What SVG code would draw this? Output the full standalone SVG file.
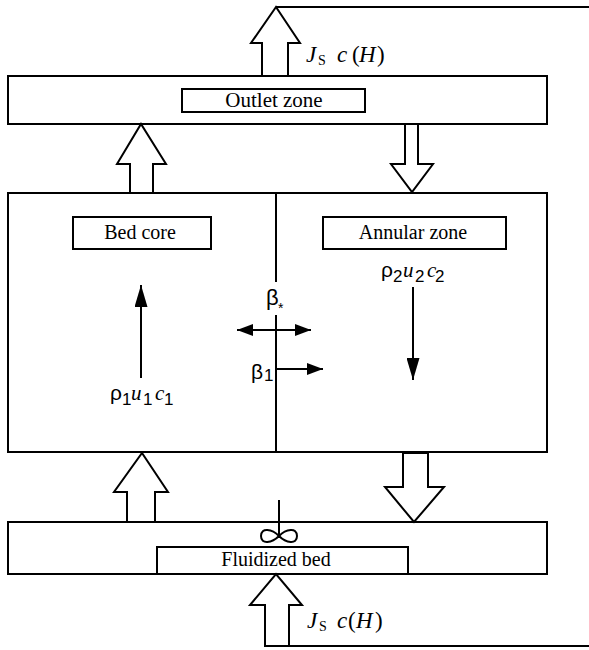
<svg xmlns="http://www.w3.org/2000/svg" width="589" height="650" viewBox="0 0 589 650">
<defs>
<style>
.box{fill:none;stroke:#000;stroke-width:2}
.lbl{fill:#fff;stroke:#000;stroke-width:2}
.blk{fill:#fff;stroke:#000;stroke-width:2;stroke-linejoin:miter}
.ln{fill:none;stroke:#000;stroke-width:2}
</style>
<marker id="ah" markerWidth="16" markerHeight="12" refX="16" refY="6" orient="auto" markerUnits="userSpaceOnUse">
<path d="M0,0 L16,6 L0,12 Z" fill="#000"/>
</marker>
<marker id="ahs" markerWidth="16" markerHeight="12" refX="0" refY="6" orient="auto" markerUnits="userSpaceOnUse">
<path d="M16,0 L0,6 L16,12 Z" fill="#000"/>
</marker>
<marker id="ahl" markerWidth="22" markerHeight="13" refX="22" refY="6.5" orient="auto" markerUnits="userSpaceOnUse">
<path d="M0,0 L22,6.5 L0,13 Z" fill="#000"/>
</marker>
</defs>
<rect width="589" height="650" fill="#fff"/>

<g id="outlet">
<rect class="box" x="8" y="76" width="539" height="48"/>
<rect class="lbl" x="182" y="89" width="183" height="23"/>
<text font-family="'Liberation Serif', 'Times New Roman', serif" font-size="21" x="274" y="107" text-anchor="middle">Outlet zone</text>
</g>

<g id="middle">
<rect class="box" x="8" y="193" width="539" height="259"/>
<line class="ln" x1="276" y1="193" x2="276" y2="282"/>
<line class="ln" x1="276" y1="315" x2="276" y2="452"/>
</g>

<g id="bed-core">
<rect class="lbl" x="73" y="217" width="138" height="32"/>
<text font-family="'Liberation Serif', 'Times New Roman', serif" font-size="20" x="140" y="239" text-anchor="middle">Bed core</text>
<g font-size="21">
<text font-family="'Liberation Sans', 'DejaVu Sans', sans-serif" x="110" y="400">ρ</text>
<text font-family="'Liberation Sans', 'DejaVu Sans', sans-serif" font-size="17" x="122" y="405">1</text>
<text font-family="'Liberation Serif', serif" font-style="italic" x="131" y="400">u</text>
<text font-family="'Liberation Sans', 'DejaVu Sans', sans-serif" font-size="17" x="143" y="405">1</text>
<text font-family="'Liberation Serif', serif" font-style="italic" x="155" y="400">c</text>
<text font-family="'Liberation Sans', 'DejaVu Sans', sans-serif" font-size="17" x="164" y="405">1</text>
</g>
</g>

<g id="annular">
<rect class="lbl" x="323" y="217" width="183" height="32"/>
<text font-family="'Liberation Serif', 'Times New Roman', serif" font-size="20" x="413" y="239" text-anchor="middle">Annular zone</text>
<g font-size="21">
<text font-family="'Liberation Sans', 'DejaVu Sans', sans-serif" x="381" y="277">ρ</text>
<text font-family="'Liberation Sans', 'DejaVu Sans', sans-serif" font-size="17" x="393" y="282">2</text>
<text font-family="'Liberation Serif', serif" font-style="italic" x="403" y="277">u</text>
<text font-family="'Liberation Sans', 'DejaVu Sans', sans-serif" font-size="17" x="415" y="282">2</text>
<text font-family="'Liberation Serif', serif" font-style="italic" x="427" y="277">c</text>
<text font-family="'Liberation Sans', 'DejaVu Sans', sans-serif" font-size="17" x="435" y="282">2</text>
</g>
</g>

<g id="exchange" font-family="'Liberation Sans', 'DejaVu Sans', sans-serif">
<text font-size="22" x="266" y="305">β</text>
<text font-size="14" x="278" y="313">*</text>
<text font-size="21" x="251" y="379">β</text>
<text font-size="17" x="264" y="381">1</text>
</g>

<g id="fluidized-bed">
<rect class="box" x="8" y="522" width="539" height="52"/>
<rect class="lbl" x="157" y="547" width="251" height="27"/>
<text font-family="'Liberation Serif', 'Times New Roman', serif" font-size="20" x="276" y="566" text-anchor="middle">Fluidized bed</text>
<line class="ln" x1="279" y1="500" x2="279" y2="536"/>
<path class="ln" d="M279,536 C272,529 261,527 261,536 C261,545 272,543 279,536 C286,529 297,527 297,536 C297,545 286,543 279,536 Z"/>
</g>

<g id="labels" font-family="'Liberation Serif', 'Times New Roman', serif" font-size="23">
<text font-style="italic" x="306" y="62">J</text>
<text font-size="14" x="318" y="65">S</text>
<text font-style="italic" x="337" y="62">c</text>
<text x="352" y="62">(</text>
<text font-style="italic" x="359" y="62">H</text>
<text x="377" y="62">)</text>
<text font-style="italic" x="307" y="628">J</text>
<text font-size="14" x="319" y="631">S</text>
<text font-style="italic" x="337" y="628">c</text>
<text x="348" y="628">(</text>
<text font-style="italic" x="356" y="628">H</text>
<text x="375" y="628">)</text>
</g>

<g id="connectors">
<polygon class="blk" points="262,76 262,43 251,43 276,7 300,43 288,43 288,76"/>
<line class="ln" x1="276" y1="7" x2="589" y2="7"/>
<polygon class="blk" points="130,193 130,164 117,164 141,124 166,164 153,164 153,193"/>
<polygon class="blk" points="405,124 405,164 391,164 412,192 433,164 418,164 418,124"/>
<polygon class="blk" points="127,522 127,492 114,492 142,453 168,492 155,492 155,522"/>
<polygon class="blk" points="403,453 403,487 385,487 414,522 444,487 428,487 428,453"/>
<polygon class="blk" points="265,646 265,605 250,605 276,574 302,605 289,605 289,646"/>
<line class="ln" x1="265" y1="646" x2="589" y2="646"/>
<line class="ln" x1="141" y1="378" x2="141" y2="285" marker-end="url(#ahl)"/>
<line class="ln" x1="413" y1="287" x2="413" y2="380" marker-end="url(#ahl)"/>
<line class="ln" x1="237" y1="330" x2="311" y2="330" marker-start="url(#ahs)" marker-end="url(#ah)"/>
<line class="ln" x1="276" y1="369" x2="323" y2="369" marker-end="url(#ah)"/>
</g>
</svg>
